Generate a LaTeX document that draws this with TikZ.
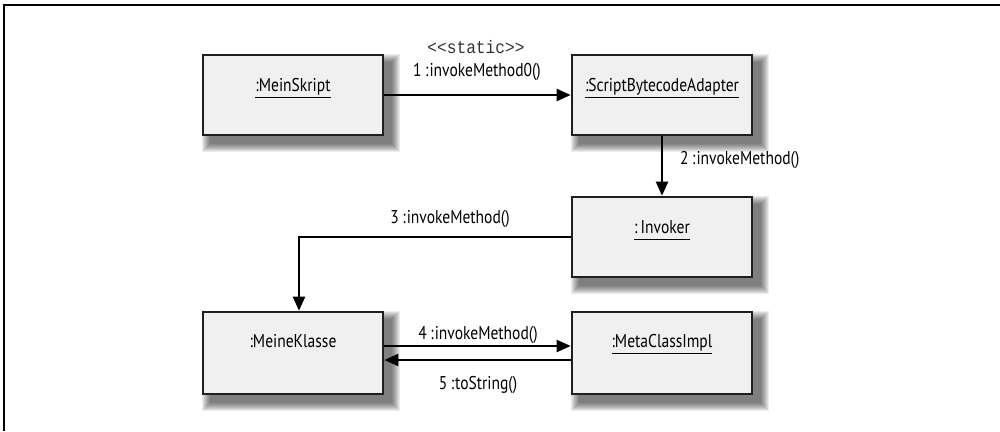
\documentclass[tikz,border=0pt]{standalone}
\usepackage{fontspec}
\setmainfont{PT Sans}[FakeStretch=0.84]
\setmonofont{Liberation Mono}[FakeStretch=0.9]
\usetikzlibrary{arrows.meta,calc}
\pgfdeclarelayer{background}
\pgfsetlayers{background,main}
\newcommand\myul[1]{\setbox0\hbox{#1}\rlap{\rule[-7pt]{\wd0}{1.5pt}}\box0}
\newcommand\cln{\hspace{3.5pt}:\hspace{1pt}}
\newcommand\mkshadow[1]{%
  \begin{pgfonlayer}{background}
  \foreach \k in {0,...,8}{%
    \fill[black,opacity=0.075] ($(#1.south west)+(8-\k,8+\k)$) rectangle ($(#1.north east)+(8+\k,8-\k)$);
  }
  \end{pgfonlayer}}
\begin{document}
\begin{tikzpicture}[x=1pt,y=-1pt,
  obj/.style={draw=black!88, line width=2.6pt, fill=black!6, minimum width=180pt, minimum height=80pt, inner sep=0pt},
  objtall/.style={obj, minimum height=82pt},
  otext/.style={anchor=base, inner sep=0pt, font=\fontsize{18.5}{20}\selectfont},
  lbl/.style={anchor=base, inner sep=0pt, font=\fontsize{18.5}{20}\selectfont},
  stereo/.style={anchor=base, inner sep=0pt, text=black!80, font=\ttfamily\fontsize{18}{20}\selectfont},
  arr/.style={line width=2.2pt, -{Triangle[length=14pt,width=12pt]}}
]
\useasboundingbox (0,0) rectangle (1000,431);
% frame
\draw[line width=2pt] (4,431) -- (4,5) -- (1000,5);

% boxes
\node[obj] (ms) at (293,95) {};
\node[obj] (sba) at (662,95) {};
\node[obj] (inv) at (662,237) {};
\node[objtall] (mk) at (293,353) {};
\node[objtall] (mci) at (662,353) {};
\mkshadow{ms}
\mkshadow{sba}
\mkshadow{inv}
\mkshadow{mk}
\mkshadow{mci}

% box texts
\node[otext] (tms) at (293,91) {\myul{:MeinSkript}};
\node[otext] (tsba) at (662,91) {\myul{:ScriptBytecodeAdapter}};
\node[otext] (tinv) at (662,233) {\myul{:\,Invoker}};
\node[otext] (tmk) at (293,347) {:MeineKlasse};
\node[otext] (tmci) at (662,347) {\myul{:MetaClassImpl}};

% connectors
\draw[arr] (ms.east) -- (sba.west);
\draw[arr] (sba.south) -- (inv.north);
\draw[arr] (inv.west) -| ([xshift=6pt]mk.north);
\draw[arr] ([yshift=7pt]mk.east) -- ([yshift=7pt]mci.west);
\draw[arr] ([yshift=-7pt]mci.west) -- ([yshift=-7pt]mk.east);

% labels
\node[stereo] (l0) at (476,53) {<\kern0pt<static>\kern0pt>};
\node[lbl] (l1) at (477,76) {1\cln invokeMethod0()};
\node[lbl, anchor=base west] (l2) at (680,164) {2\cln invokeMethod()};
\node[lbl] (l3) at (450,223) {3\cln invokeMethod()};
\node[lbl] (l4) at (478,339) {4\cln invokeMethod()};
\node[lbl] (l5) at (478,389) {5\cln toString()};
\end{tikzpicture}
\end{document}
